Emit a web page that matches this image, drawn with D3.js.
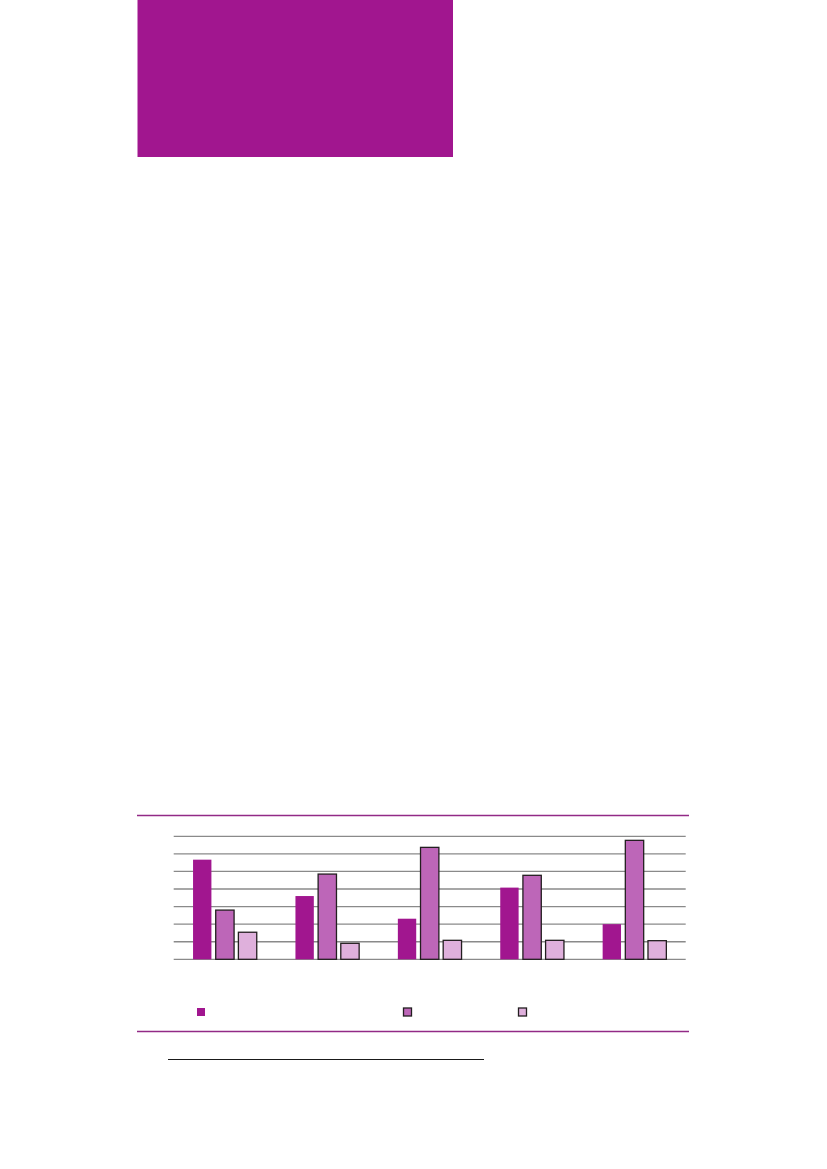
<!DOCTYPE html>
<html lang="en">
  <head>
    <meta charset="UTF-8" />
    <title>Chart</title>
    <script src="https://cdn.jsdelivr.net/npm/d3@7"></script>
    <style>
      html, body { margin: 0; padding: 0; background: #fff; }
    </style>
  </head>
  <body>
    <svg id="container" width="827" height="1169"></svg>
    <script>
      // chart data (no labels are printed on it)
      const categories = ["g1", "g2", "g3", "g4", "g5"];
      const seriesNames = ["s1", "s2", "s3"];
      const s1Values = [5.67, 3.6, 2.31, 4.08, 2.0];
      const s2Values = [2.8, 4.85, 6.37, 4.78, 6.77];
      const s3Values = [1.54, 0.91, 1.08, 1.08, 1.06];
      const yTicks = [0, 1, 2, 3, 4, 5, 6, 7];

      const colors = ["#a1168f", "#bd66b8", "#dfb0dc"];
      const strokes = ["none", "#231f20", "#231f20"];

      let svg = d3.select("#container");

      // magenta header block
      svg.append("rect")
        .attr("x", 137.5).attr("y", 0)
        .attr("width", 315.5).attr("height", 157)
        .attr("fill", "#a1168f");

      // rules above and below the chart
      svg.append("line")
        .attr("x1", 137).attr("x2", 689)
        .attr("y1", 815.5).attr("y2", 815.5)
        .attr("stroke", "#922a86").attr("stroke-width", 1.3);
      svg.append("line")
        .attr("x1", 137).attr("x2", 689)
        .attr("y1", 1031.5).attr("y2", 1031.5)
        .attr("stroke", "#922a86").attr("stroke-width", 1.3);

      // footnote rule
      svg.append("line")
        .attr("x1", 168).attr("x2", 484)
        .attr("y1", 1059.5).attr("y2", 1059.5)
        .attr("stroke", "#1a1a1a").attr("stroke-width", 1.2);

      let left = 173.7, right = 685.7;
      let body = svg.append("g");

      let x0 = d3.scaleBand().domain(categories).range([left, right]);
      let half = 31.85;
      let x1 = d3.scaleBand().domain(seriesNames)
        .range([x0.bandwidth() / 2 - half, x0.bandwidth() / 2 + half])
        .paddingInner(0.19);
      let y = d3.scaleLinear().domain([0, 7]).range([959.3, 836.3]);

      // grid lines
      body.selectAll("line.grid")
        .data(yTicks)
        .enter()
        .append("line")
        .attr("class", "grid")
        .attr("x1", left).attr("x2", right)
        .attr("y1", (d) => y(d)).attr("y2", (d) => y(d))
        .attr("stroke", "#8a8a8a").attr("stroke-width", 1.3);

      let rows = categories.map((c, i) => ({
        cat: c,
        vals: [s1Values[i], s2Values[i], s3Values[i]],
      }));

      let groups = body.selectAll("g.grp")
        .data(rows)
        .enter()
        .append("g")
        .attr("transform", (d) => `translate(${x0(d.cat)},0)`);

      groups.selectAll("rect")
        .data((d) => d.vals.map((v, k) => ({ key: seriesNames[k], v: v, k: k })))
        .enter()
        .append("rect")
        .attr("x", (d) => x1(d.key))
        .attr("y", (d) => y(d.v))
        .attr("width", x1.bandwidth())
        .attr("height", (d) => y(0) - y(d.v))
        .attr("fill", (d) => colors[d.k])
        .attr("stroke", (d) => strokes[d.k])
        .attr("stroke-width", 1.3);

      // legend swatches
      const legendX = [197, 403.5, 518.5];
      svg.selectAll("rect.leg")
        .data(seriesNames)
        .enter()
        .append("rect")
        .attr("class", "leg")
        .attr("x", (d, i) => legendX[i])
        .attr("y", 1008)
        .attr("width", 8).attr("height", 8)
        .attr("fill", (d, i) => colors[i])
        .attr("stroke", (d, i) => strokes[i])
        .attr("stroke-width", 1.3);
    </script>
  </body>
</html>
